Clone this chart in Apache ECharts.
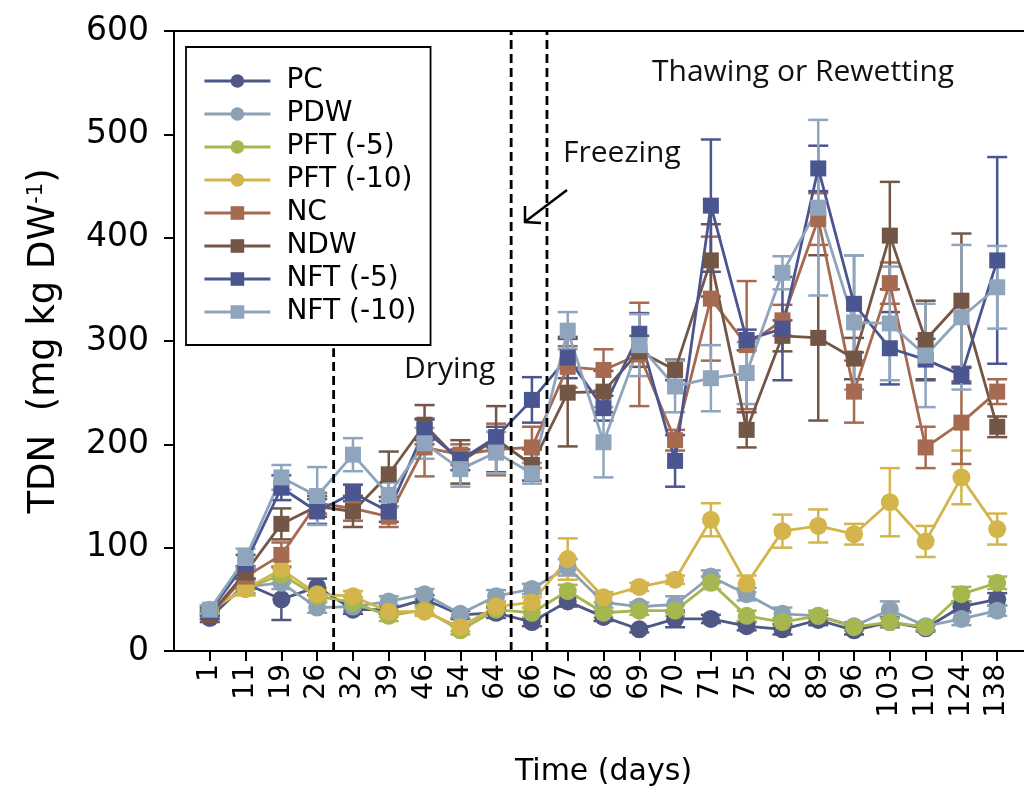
<!DOCTYPE html>
<html><head><meta charset="utf-8">
<script src="https://cdn.jsdelivr.net/npm/echarts@6/dist/echarts.min.js"></script>
<style>html,body{margin:0;padding:0;background:#fff}#c{width:1024px;height:794px}</style>
</head><body><div id="c"></div>
<script>
// ---- data ----
const days = ['1','11','19','26','32','39','46','54','64','66','67','68','69','70','71','75','82','89','96','103','110','124','138'];
const yTicks = [0,100,200,300,400,500,600];

const seriesNames = ['PC','PDW','PFT (-5)','PFT (-10)','NC','NDW','NFT (-5)','NFT (-10)'];

const pcVals   = [32, 65, 50, 62, 40, 40, 50, 35, 37, 28, 48, 33, 21, 31, 31, 24, 21, 30, 20, 28, 22, 43, 50];
const pcErr    = [4, 5, 20, 8, 4, 4, 4, 4, 5, 4, 5, 4, 3, 8, 4, 4, 5, 5, 4, 5, 3, 5, 6];
const pdwVals  = [38, 62, 66, 42, 43, 48, 55, 36, 53, 60, 81, 47, 43, 45, 72, 55, 36, 34, 24, 40, 24, 31, 39];
const pdwErr   = [4, 6, 6, 5, 4, 5, 5, 4, 6, 5, 8, 8, 4, 8, 6, 6, 6, 5, 4, 8, 4, 6, 5];
const pft5Vals = [40, 60, 74, 53, 47, 34, 40, 20, 40, 37, 58, 37, 39, 39, 66, 34, 28, 34, 23, 28, 23, 55, 66];
const pft5Err  = [4, 6, 8, 5, 5, 5, 4, 4, 4, 5, 6, 5, 4, 5, 6, 5, 4, 4, 3, 4, 3, 7, 6];
const pft10Vals= [40, 60, 79, 55, 53, 38, 38, 23, 43, 47, 89, 52, 62, 69, 127, 65, 116, 121, 113, 144, 106, 168, 118];
const pft10Err = [4, 6, 8, 6, 5, 5, 4, 4, 5, 5, 20, 5, 4, 4, 16, 8, 16, 16, 10, 33, 15, 26, 15];
const ncVals   = [35, 72, 93, 143, 138, 130, 197, 190, 195, 197, 275, 272, 287, 204, 341, 296, 320, 418, 251, 356, 197, 221, 251];
const ncErr    = [4, 8, 12, 10, 12, 10, 28, 10, 25, 20, 20, 20, 50, 10, 60, 62, 15, 25, 30, 20, 20, 40, 12];
const ndwVals  = [35, 76, 123, 140, 135, 171, 219, 183, 205, 180, 250, 251, 290, 272, 378, 214, 305, 303, 283, 402, 301, 339, 217];
const ndwErr   = [4, 6, 15, 10, 15, 22, 19, 21, 32, 15, 52, 20, 15, 10, 35, 17, 15, 80, 20, 52, 38, 65, 10];
const nft5Vals = [38, 85, 158, 135, 153, 135, 214, 185, 207, 243, 284, 235, 307, 184, 431, 301, 312, 467, 336, 293, 282, 267, 378];
const nft5Err  = [4, 8, 12, 12, 8, 10, 10, 10, 10, 22, 20, 12, 20, 25, 64, 10, 50, 22, 47, 35, 20, 8, 100];
const nft10Vals= [40, 90, 168, 150, 190, 151, 201, 176, 192, 172, 310, 202, 296, 256, 264, 269, 366, 429, 318, 317, 286, 323, 352];
const nft10Err = [4, 9, 12, 28, 16, 12, 15, 17, 20, 10, 18, 34, 30, 25, 32, 30, 16, 85, 65, 55, 50, 70, 40];

const phaseLines = [[4.46, 0, 293], [9.42, 0, 600], [10.42, 0, 600]];

// ---- styling ----
const FONT = 'DejaVu Sans';
const colors = ['#4f5785','#8ca2b4','#a6b74f','#d4b54c','#a66a50','#745646','#4b5690','#8ea5bd'];
const symbols = ['circle','circle','circle','circle','rect','rect','rect','rect'];
const allVals = [pcVals,pdwVals,pft5Vals,pft10Vals,ncVals,ndwVals,nft5Vals,nft10Vals];
const allErr  = [pcErr,pdwErr,pft5Err,pft10Err,ncErr,ndwErr,nft5Err,nft10Err];

const categories = [' '].concat(days).concat(['  ']);

function errItem(params, api) {
  const x = api.value(0);
  const t = api.coord([x, api.value(1)]);
  const b = api.coord([x, api.value(2)]);
  const w = 10;
  const st = {stroke: api.visual('color'), lineWidth: 2.5};
  return {type: 'group', children: [
    {type: 'line', shape: {x1: t[0], y1: t[1], x2: b[0], y2: b[1]}, style: st},
    {type: 'line', shape: {x1: t[0]-w, y1: t[1], x2: t[0]+w, y2: t[1]}, style: st},
    {type: 'line', shape: {x1: b[0]-w, y1: b[1], x2: b[0]+w, y2: b[1]}, style: st}
  ]};
}
function dashItem(params, api) {
  const a = api.coord([api.value(0), api.value(1)]);
  const b = api.coord([api.value(0), api.value(2)]);
  return {type: 'line', shape: {x1: a[0], y1: a[1], x2: b[0], y2: b[1]},
          style: {stroke: '#000', lineWidth: 2.8, lineDash: [9, 5]}};
}

const series = [];
seriesNames.forEach((name, k) => {
  const vals = allVals[k], err = allErr[k];
  series.push({
    type: 'custom', name: name + ' err', renderItem: errItem,
    itemStyle: {color: colors[k]},
    encode: {x: 0, y: [1, 2]},
    data: vals.map((v, i) => [i + 1, v + err[i], v - err[i]]),
    z: 2
  });
});
seriesNames.forEach((name, k) => {
  series.push({
    type: 'line', name: name,
    data: allVals[k].map((v, i) => [i + 1, v]),
    symbol: symbols[k], symbolSize: symbols[k] === 'circle' ? 18 : 16,
    lineStyle: {color: colors[k], width: 2.8},
    itemStyle: {color: colors[k], opacity: 1},
    z: 3
  });
});
series.push({
  type: 'custom', name: 'phases', xAxisIndex: 1, yAxisIndex: 0,
  renderItem: dashItem, encode: {x: 0, y: [1, 2]}, data: phaseLines, z: 5, silent: true
});

const chart = echarts.init(document.getElementById('c'), null, {renderer: 'canvas'});
chart.setOption({
  animation: false,
  backgroundColor: '#fff',
  grid: {left: 174, top: 31, width: 859, height: 620, show: true, borderColor: '#000', borderWidth: 2,
         backgroundColor: 'transparent', outerBoundsMode: 'none', containLabel: false},
  legend: {
    data: seriesNames, orient: 'vertical', left: 186, top: 47,
    padding: [20, 14, 19, 17], itemGap: 5, itemWidth: 66, itemHeight: 17,
    borderColor: '#000', borderWidth: 1.8, backgroundColor: '#fff',
    lineStyle: {width: 2.8},
    textStyle: {fontFamily: FONT, fontSize: 28, color: '#000', lineHeight: 28, padding: [0, 0, 0, 11]},
    selectedMode: false
  },
  xAxis: [{
    type: 'category', data: categories, boundaryGap: false,
    axisLine: {show: true, lineStyle: {color: '#000', width: 2}},
    axisTick: {show: true, inside: false, length: 10, lineStyle: {color: '#000', width: 2},
               interval: (i) => i > 0 && i < categories.length - 1},
    axisLabel: {rotate: 90, fontFamily: FONT, fontSize: 28, color: '#000', margin: 13, interval: 0},
    splitLine: {show: false},
    name: 'Time (days)', nameLocation: 'middle', nameGap: 106,
    nameTextStyle: {fontFamily: FONT, fontSize: 30, color: '#000'}
  }, {
    type: 'value', min: 0, max: 24, show: false, gridIndex: 0
  }],
  yAxis: [{
    type: 'value', min: 0, max: 600, interval: 100,
    axisLine: {show: true, lineStyle: {color: '#000', width: 2}},
    axisTick: {show: true, inside: false, length: 10, lineStyle: {color: '#000', width: 2}},
    axisLabel: {fontFamily: FONT, fontSize: 33, color: '#000', margin: 25,
                formatter: (v) => yTicks.indexOf(v) >= 0 ? String(v) : ''},
    splitLine: {show: false},
    name: '{a|TDN  (mg kg DW}{b|-1}{a|)}', nameLocation: 'middle', nameGap: 111, nameRotate: 90,
    nameTextStyle: {rich: {
      a: {fontFamily: FONT, fontSize: 37, color: '#000'},
      b: {fontFamily: FONT, fontSize: 21, color: '#000', verticalAlign: 'top'}
    }}
  }],
  graphic: [
    {type: 'text', left: 652, top: 57, style: {text: 'Thawing or Rewetting', font: '30px "Open Sans"', fill: '#111'}},
    {type: 'text', left: 563, top: 138, style: {text: 'Freezing', font: '30px "Open Sans"', fill: '#111'}},
    {type: 'text', left: 404, top: 354, style: {text: 'Drying', font: '30px "Open Sans"', fill: '#111'}},
    {type: 'polyline', shape: {points: [[567, 190], [526, 221]]}, style: {stroke: '#000', lineWidth: 2.5, fill: null}},
    {type: 'polyline', shape: {points: [[525, 206], [525, 222], [541, 223]]}, style: {stroke: '#000', lineWidth: 2.5, fill: null}}
  ],
  series: series
});
</script>
</body></html>
